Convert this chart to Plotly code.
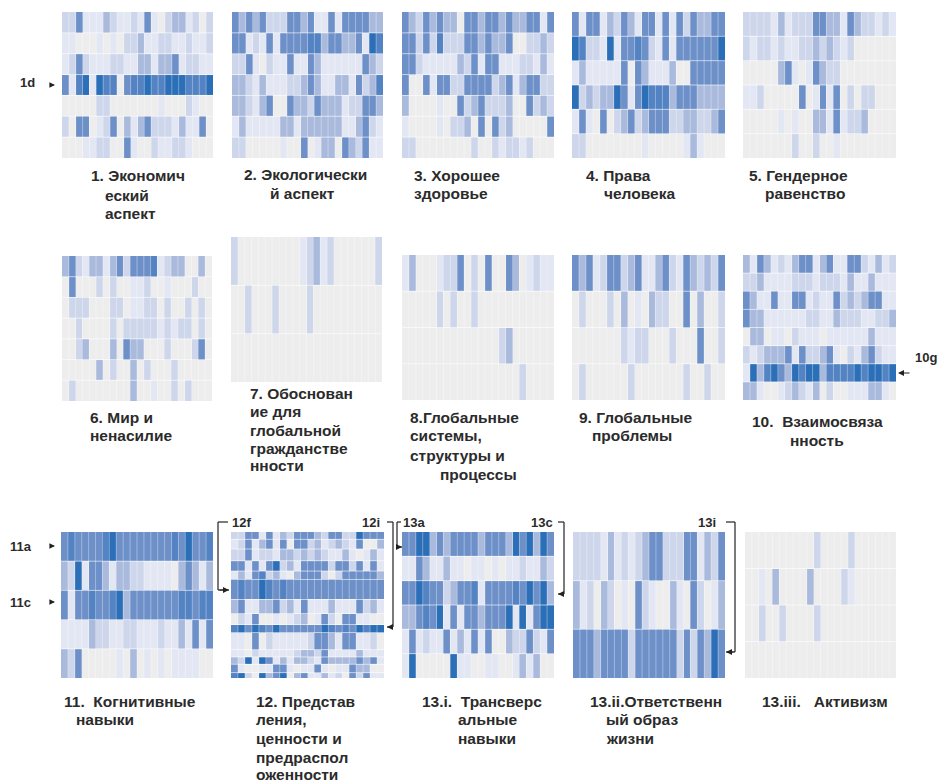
import plotly.graph_objects as go

W, H = 939, 783

panel_01 = ["2 2 4 1 1 1 3 2 1 1 2 1 4 1 0 2 3 3 1 2 0 2",
            "1 1 0 0 0 1 0 1 0 2 2 3 1 1 2 2 1 1 2 1 1 2",
            "1 2 4 2 1 1 1 2 2 1 1 3 3 1 3 3 4 1 2 2 1 1",
            "4 1 5 6 1 6 5 5 0 4 5 5 6 5 5 6 6 6 5 5 5 6",
            "0 0 0 0 0 2 2 0 0 0 0 0 0 0 1 0 0 0 2 1 0 0",
            "2 0 4 4 0 1 2 4 0 3 1 3 4 2 2 2 1 3 1 1 4 0",
            "0 0 0 1 1 2 2 0 0 4 1 0 0 2 1 1 2 2 1 0 0 0"]
panel_02 = ["4 3 4 3 4 2 2 2 4 4 3 4 1 1 4 1 4 4 4 4 3 3",
            "4 4 1 2 1 4 1 4 4 4 4 5 5 3 4 4 3 3 4 1 6 5",
            "2 2 4 1 0 2 1 1 4 1 1 4 3 1 1 1 1 1 1 4 3 2",
            "3 3 2 1 3 1 1 1 2 2 3 4 3 1 1 3 3 1 4 2 3 5",
            "3 3 2 1 3 4 0 0 4 3 3 2 4 3 3 3 1 2 2 4 4 3",
            "1 3 1 1 1 1 1 3 3 1 3 3 3 3 3 3 1 1 3 4 2 1",
            "2 2 0 0 0 0 0 1 0 0 4 0 1 3 3 0 4 3 2 4 1 1"]
panel_03 = ["4 3 2 4 3 4 3 3 0 4 4 3 4 4 3 4 3 3 4 4 1 4",
            "4 4 2 4 2 5 2 2 2 4 4 3 4 3 3 4 0 0 2 2 3 2",
            "4 4 2 1 1 1 1 1 3 2 4 1 4 4 1 1 1 2 2 1 3 1",
            "4 0 0 4 1 4 4 2 2 4 4 4 4 2 3 4 1 3 4 4 2 2",
            "3 0 0 0 0 1 0 0 4 2 3 4 2 2 2 3 0 0 4 2 3 2",
            "1 0 0 0 0 1 0 2 2 3 0 4 0 4 2 3 0 0 0 0 0 4",
            "2 2 0 0 0 0 0 0 0 0 2 0 0 2 1 2 2 1 2 0 0 0"]
panel_04 = ["4 1 4 4 1 3 2 4 3 1 4 4 1 4 1 4 2 4 3 3 4 4",
            "6 5 2 2 1 6 1 4 4 5 4 2 1 4 1 4 4 4 4 4 4 6",
            "1 3 1 1 1 1 1 4 0 4 3 1 1 1 3 0 0 4 4 4 4 4",
            "6 2 3 2 3 3 6 4 1 4 6 5 5 5 3 4 4 4 3 3 3 3",
            "1 4 1 0 4 0 2 3 4 2 3 4 4 4 2 2 3 3 2 2 3 4",
            "2 2 0 0 0 0 0 0 0 0 1 0 0 0 0 0 1 3 1 0 0 0"]
panel_05 = ["2 2 2 2 1 3 1 2 2 2 4 4 3 3 1 4 3 2 2 1 2 1",
            "2 1 2 2 1 2 1 1 2 2 3 2 3 2 1 2 0 0 0 0 0 0",
            "0 0 0 0 0 3 4 1 0 1 4 3 2 2 0 0 0 0 0 0 0 0",
            "1 1 2 0 0 0 0 0 4 0 1 4 1 4 0 2 0 2 2 0 0 0",
            "0 0 0 0 0 1 0 1 0 0 3 3 1 4 1 2 2 3 0 0 0 0",
            "0 0 0 0 0 0 0 2 0 0 2 0 0 1 0 0 0 0 0 0 0 0"]
panel_06 = ["3 4 2 1 3 3 1 3 4 2 4 4 4 5 1 2 3 3 0 0 3 0",
            "0 4 0 0 0 2 0 2 0 0 1 1 2 0 0 1 0 0 0 2 0 0",
            "0 2 2 2 0 0 0 2 2 0 1 1 2 2 0 2 0 0 2 0 2 0",
            "0 0 2 0 0 0 0 2 0 2 2 2 2 2 1 2 1 2 2 0 2 0",
            "0 0 2 3 0 0 0 3 0 4 3 3 0 0 0 2 0 0 0 2 4 0",
            "0 0 0 0 0 3 0 2 0 0 3 0 2 0 0 0 2 0 0 0 0 0",
            "0 2 0 0 0 0 0 0 0 0 3 0 0 1 0 0 2 0 2 0 0 0"]
panel_07 = ["2 0 0 0 0 0 0 0 0 0 1 2 3 1 2 0 0 0 0 0 0 2",
            "0 0 2 0 0 0 2 0 0 0 0 2 0 0 0 0 0 0 0 0 0 0",
            "0 0 0 0 0 0 0 0 0 0 0 0 0 0 0 0 0 0 0 0 0 0"]
panel_08 = ["1 3 0 0 0 1 2 2 4 0 2 0 4 0 0 4 3 0 1 2 1 1",
            "0 0 0 0 0 2 0 2 0 0 2 0 0 0 0 0 0 0 0 0 0 0",
            "0 0 0 0 0 0 0 0 0 0 0 0 0 0 2 3 0 0 0 0 0 0",
            "0 0 0 0 0 0 0 0 0 0 0 0 0 0 0 0 0 2 0 0 0 0"]
panel_09 = ["4 3 4 1 2 4 4 2 3 4 1 1 3 4 2 1 4 3 2 3 2 4",
            "0 2 0 0 0 2 0 3 0 1 0 3 2 2 0 0 4 0 3 0 0 2",
            "0 0 0 0 0 0 0 2 1 2 2 0 0 0 2 0 0 0 4 0 0 2",
            "0 2 0 0 0 0 0 0 2 0 0 0 0 0 0 0 2 0 0 2 0 0"]
panel_10 = ["3 1 4 3 1 2 1 3 4 4 1 3 4 1 1 4 4 2 1 3 1 2",
            "2 2 3 1 1 1 1 2 2 2 1 2 2 2 1 3 1 1 3 1 1 1",
            "4 3 1 1 4 1 1 4 4 1 2 1 1 4 2 3 2 3 4 4 1 1",
            "4 3 3 1 1 1 1 1 1 2 2 1 1 3 2 2 2 1 1 2 2 3",
            "0 3 3 0 1 1 0 2 1 1 1 0 1 1 1 1 1 1 3 1 1 1",
            "2 1 2 3 3 3 4 1 4 2 2 3 4 1 0 2 1 3 4 2 1 1",
            "1 6 3 5 6 4 3 6 5 6 6 3 5 5 5 5 6 5 6 6 5 6",
            "3 3 1 0 0 1 2 3 2 1 3 0 2 0 0 1 1 1 3 3 1 0"]
panel_11 = ["4 5 4 4 4 4 5 6 4 4 4 4 4 4 4 4 5 4 6 4 4 5",
            "3 2 6 1 4 4 3 1 3 3 2 2 1 1 1 1 0 3 4 3 1 3",
            "4 1 4 4 5 4 4 5 6 3 4 4 4 4 4 4 4 5 5 4 5 5",
            "1 1 1 1 3 2 2 1 1 2 2 1 1 1 2 1 1 3 1 4 1 4",
            "3 2 4 0 0 0 0 0 1 0 3 0 1 0 1 0 1 1 1 1 0 0"]
panel_12 = ["2 2 4 4 1 4 1 3 2 4 4 4 3 2 4 4 2 2 6 4 4 4",
            "1 2 4 1 3 4 1 4 0 4 4 2 3 1 2 3 2 1 4 0 0 3",
            "2 2 4 1 2 2 1 3 3 2 3 2 3 2 1 1 3 1 0 1 3 1",
            "4 4 1 4 1 4 6 2 3 1 4 4 4 4 2 4 4 2 4 1 4 1",
            "1 3 1 4 5 2 3 1 0 3 4 4 4 2 0 2 4 4 4 4 4 3",
            "4 5 4 4 6 5 4 5 4 4 4 4 4 4 4 4 4 4 4 4 4 4",
            "3 4 1 1 3 3 4 2 3 1 4 1 1 1 3 1 1 1 4 2 3 1",
            "0 2 1 4 0 0 1 0 1 2 3 0 1 4 2 0 4 4 1 1 0 0",
            "5 6 4 6 5 4 6 4 4 4 4 4 4 6 5 4 5 4 6 5 6 6",
            "1 1 0 4 0 2 1 1 1 1 1 2 4 4 3 1 4 4 1 1 2 0",
            "1 1 0 2 1 1 1 1 1 2 3 3 2 4 1 1 1 1 3 1 1 1",
            "3 2 6 1 6 4 1 3 1 3 3 2 1 4 3 3 3 3 4 3 4 1",
            "4 1 0 0 1 1 4 4 1 0 1 1 4 1 0 1 1 4 3 3 0 0",
            "5 6 2 0 6 3 4 6 0 3 4 1 1 3 1 2 0 4 2 4 1 1"]
panel_13 = ["4 4 6 6 3 4 3 4 4 4 4 3 4 4 4 3 6 4 6 3 6 4",
            "1 1 4 3 1 1 3 1 1 0 1 1 0 1 0 1 1 2 1 1 3 2",
            "4 4 6 5 4 4 2 3 4 4 5 1 4 4 4 4 5 4 6 4 6 3",
            "3 3 4 5 4 6 1 4 1 4 4 3 4 4 4 6 1 6 1 4 6 6",
            "1 4 1 2 1 1 4 1 3 1 4 1 4 0 0 3 2 2 4 2 1 4",
            "1 6 0 0 0 0 0 6 1 1 0 0 1 1 0 0 1 3 1 3 0 0"]
panel_14 = ["2 2 2 2 1 3 1 2 1 2 3 4 4 2 2 2 4 4 1 3 2 4",
            "3 1 2 0 3 2 0 1 0 4 2 1 0 0 3 1 0 4 2 0 1 3",
            "4 4 4 3 4 4 4 4 2 4 4 4 4 4 4 2 4 2 4 3 6 4"]
panel_15 = ["0 0 0 0 0 0 0 0 0 0 2 0 0 0 0 2 0 0 0 0 0 0",
            "0 0 1 0 3 0 0 0 0 3 0 0 0 0 2 1 0 0 0 0 0 0",
            "0 0 2 0 0 2 0 0 0 0 2 0 0 0 0 0 0 0 0 0 0 0",
            "0 0 0 0 0 0 0 0 0 0 0 0 0 0 0 0 0 0 0 0 0 0"]

panels = [panel_01, panel_02, panel_03, panel_04, panel_05,
          panel_06, panel_07, panel_08, panel_09, panel_10,
          panel_11, panel_12, panel_13, panel_14, panel_15]

# pixel boxes: left, right, top, bottom
boxes = [(62, 213, 12, 158), (232, 383, 12, 158), (402, 554, 12, 158), (572, 725, 12, 158), (743, 896, 12, 158),
         (62, 212, 256, 401), (231, 382, 237, 382), (402, 554, 255, 400), (572, 725, 255, 400), (743, 896, 255, 400),
         (61, 213, 532, 678), (231, 384, 532, 678), (402, 554, 532, 678), (573, 725, 532, 678), (745, 896, 532, 678)]

row_edges_12 = [0, 22, 51, 86, 117, 142, 202, 244, 277, 301, 352, 374, 396, 421, 437]

level_colors = ["#ededed", "#e3e7f3", "#cdd6eb", "#a9badd", "#6d90c9", "#5383c3", "#2a6fb7"]
n = len(level_colors)
colorscale = []
for i, c in enumerate(level_colors):
    colorscale += [[i / n, c], [(i + 1) / n, c]]

title_lines = [
    (91, 176, "1. Экономич"), (105, 195, "еский"), (105, 213, "аспект"),
    (244, 174, "2. Экологически"), (270, 193, "й аспект"),
    (414, 176, "3. Хорошее"), (414, 194, "здоровье"),
    (586, 176, "4. Права"), (604, 194, "человека"),
    (749, 176, "5. Гендерное"), (765, 194, "равенство"),
    (90, 417, "6. Мир и"), (90, 436, "ненасилие"),
    (250, 393, "7. Обоснован"), (250, 411, "ие для"), (250, 430, "глобальной"),
    (250, 448, "гражданстве"), (250, 466, "нности"),
    (410, 417, "8.Глобальные"), (410, 436, "системы,"), (410, 455, "структуры и"), (440, 474, "процессы"),
    (579, 417, "9. Глобальные"), (592, 436, "проблемы"),
    (752, 421, "10.  Взаимосвяза"), (790, 440, "нность"),
    (64, 701, "11.  Когнитивные"), (76, 719, "навыки"),
    (256, 701, "12. Представ"), (256, 719, "ления,"), (256, 738, "ценности и"),
    (256, 757, "предраспол"), (256, 774, "оженности"),
    (422, 701, "13.i.  Трансверс"), (458, 719, "альные"), (458, 738, "навыки"),
    (590, 701, "13.ii.Ответственн"), (606, 719, "ый образ"), (606, 738, "жизни"),
    (762, 701, "13.iii.   Активизм"),
]
side_labels = [
    (20, 83, "1d"), (915, 357, "10g"), (10, 546, "11a"), (10, 602, "11c"),
    (232, 522, "12f"), (362, 522, "12i"), (403, 522, "13a"), (531, 522, "13c"), (698, 522, "13i"),
]
# polylines of the brackets, arrow tip is the last point
brackets = [
    [(228, 522), (218, 522), (218, 590), (229, 590)],
    [(387, 522), (393, 522), (393, 627), (387, 627)],
    [(401, 522), (397, 522), (397, 547), (402, 547)],
    [(558, 522), (564, 522), (564, 594), (558, 594)],
    [(726, 522), (735, 522), (735, 652), (726, 652)],
]
small_marks = [(55, 85), (55, 546), (55, 602)]

px = lambda x: x / W
py = lambda y: 1 - y / H

fig = go.Figure()
layout = {}
shapes = []
separator = dict(color="rgba(255,255,255,0.35)", width=1)
for i, (rows, box) in enumerate(zip(panels, boxes), start=1):
    z = [[int(v) for v in r.split()] for r in rows]
    for r in z:
        assert len(r) == 22, (i, len(r))
    kw = {}
    if i == 12:
        kw["y"] = row_edges_12
        inner_y = row_edges_12[1:-1]
    else:
        inner_y = [k + 0.5 for k in range(len(z) - 1)]
    fig.add_trace(go.Heatmap(z=z, zmin=0, zmax=n, colorscale=colorscale, showscale=False,
                             hoverinfo="skip", xaxis=f"x{i}", yaxis=f"y{i}", **kw))
    l, r_, t, b = box
    layout[f"xaxis{i}"] = dict(domain=[px(l), px(r_)], visible=False, anchor=f"y{i}")
    layout[f"yaxis{i}"] = dict(domain=[py(b), py(t)], visible=False, anchor=f"x{i}", autorange="reversed")
    for j in range(21):
        shapes.append(dict(type="line", xref=f"x{i}", yref="paper", x0=j + 0.5, x1=j + 0.5,
                           y0=py(t), y1=py(b), line=separator))
    for yv in inner_y:
        shapes.append(dict(type="line", xref="paper", yref=f"y{i}", x0=px(l), x1=px(r_),
                           y0=yv, y1=yv, line=dict(color="rgba(255,255,255,0.6)", width=1)))

ann = []
for x, y, txt in title_lines:
    ann.append(dict(x=px(x - 2), y=py(y), xref="paper", yref="paper", text="<b>" + txt + "</b>",
                    showarrow=False, xanchor="left", yanchor="middle",
                    font=dict(family="Liberation Sans", size=15.5, color="#2b2b2b")))
for x, y, txt in side_labels:
    ann.append(dict(x=px(x - 2), y=py(y), xref="paper", yref="paper", text="<b>" + txt + "</b>",
                    showarrow=False, xanchor="left", yanchor="middle",
                    font=dict(family="Liberation Sans", size=13, color="#2b2b2b")))

for pts in brackets:
    for (x0, y0), (x1, y1) in zip(pts[:-1], pts[1:]):
        shapes.append(dict(type="line", xref="paper", yref="paper", x0=px(x0), y0=py(y0), x1=px(x1), y1=py(y1),
                           line=dict(color="#222222", width=1.2)))
    (xa_, ya_), (xb, yb) = pts[-2], pts[-1]
    ann.append(dict(x=px(xb), y=py(yb), xref="paper", yref="paper", ax=(xa_ - xb), ay=0, text="",
                    showarrow=True, arrowhead=2, arrowsize=1, arrowwidth=1.2, arrowcolor="#222222"))
ann.append(dict(x=px(898), y=py(373), xref="paper", yref="paper", ax=13, ay=0, text="",
                showarrow=True, arrowhead=2, arrowsize=1, arrowwidth=1.2, arrowcolor="#222222"))
for x, y in small_marks:
    ann.append(dict(x=px(x), y=py(y), xref="paper", yref="paper", ax=-5, ay=0, text="",
                    showarrow=True, arrowhead=2, arrowsize=0.8, arrowwidth=1.4, arrowcolor="#222222"))

fig.update_layout(width=W, height=H, margin=dict(l=0, r=0, t=0, b=0), autosize=False,
                  paper_bgcolor="white", plot_bgcolor="white", showlegend=False,
                  annotations=ann, shapes=shapes, **layout)
fig.write_html("out.html", config={"displayModeBar": False},
               post_script="document.body.style.margin='0';document.documentElement.style.overflow='hidden';")
